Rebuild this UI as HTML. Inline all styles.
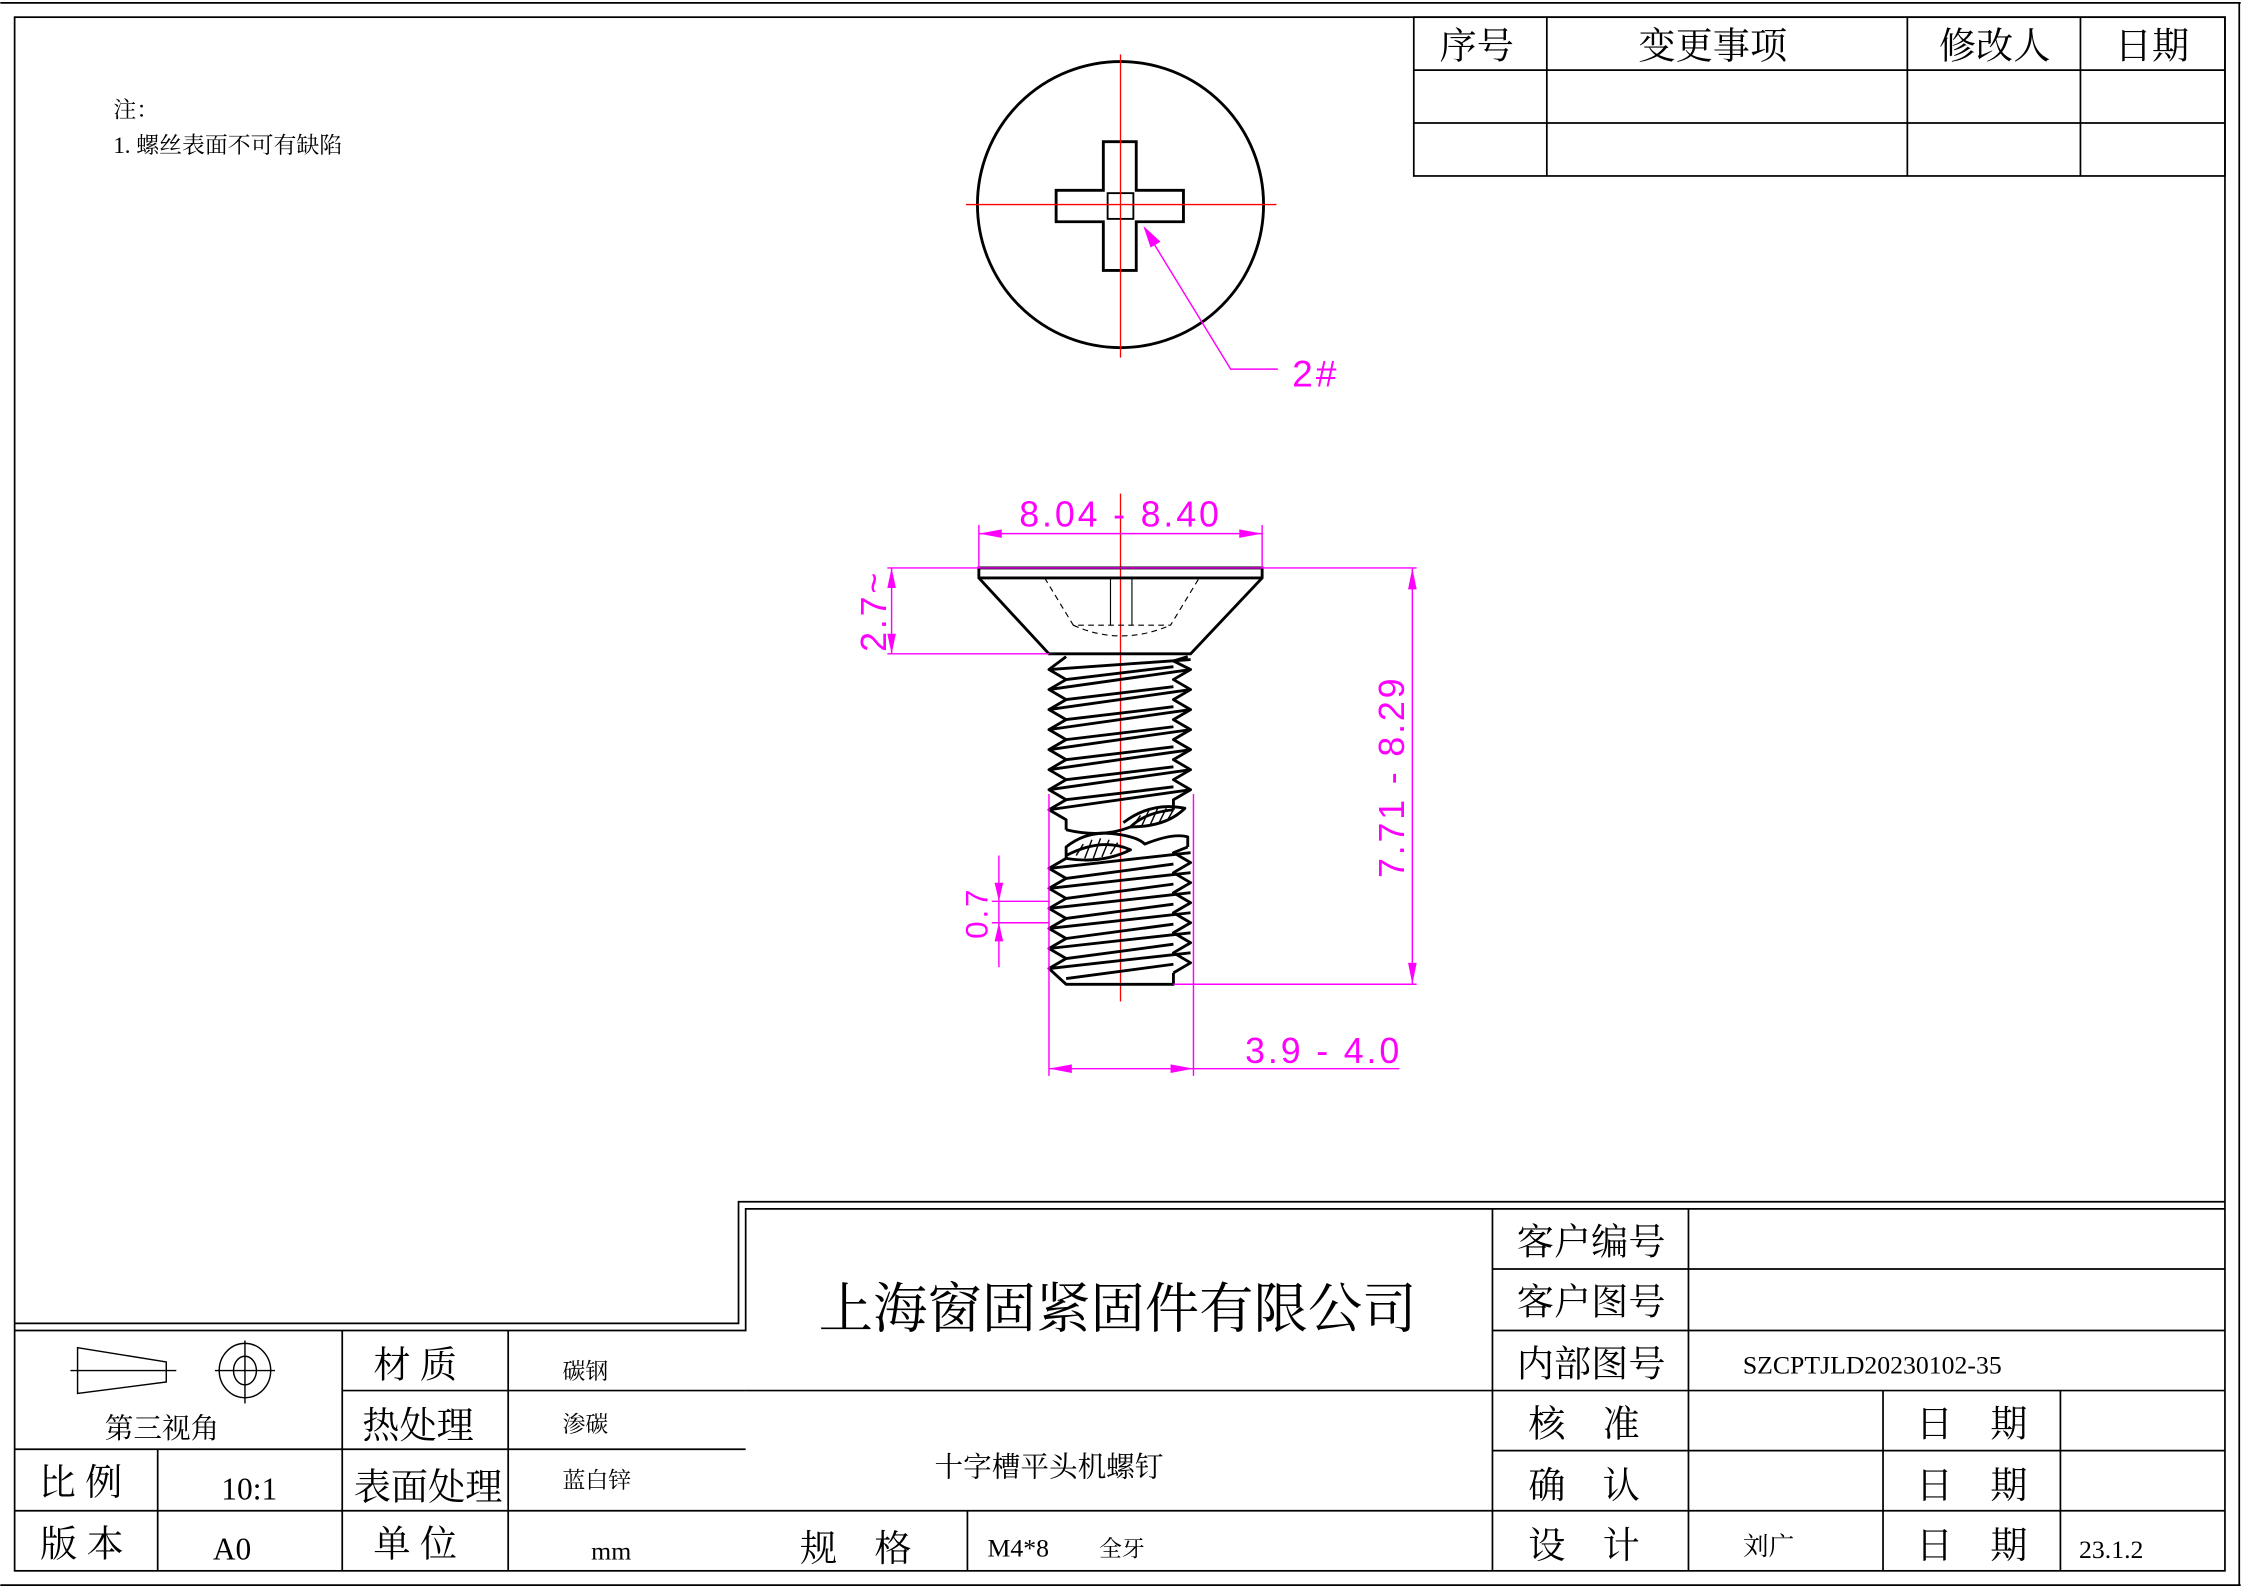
<!DOCTYPE html>
<html><head><meta charset="utf-8"><style>
html,body{margin:0;padding:0;background:#fff;}
svg{display:block;}
text{font-family:"Liberation Serif","Noto Serif CJK SC","Noto Sans CJK SC",serif;fill:#000;}
.d{font-family:"Liberation Sans",sans-serif;fill:#ff00ff;font-weight:300;letter-spacing:2px;}
</style></head><body>
<svg width="2241" height="1588" viewBox="0 0 1566 1110" xmlns="http://www.w3.org/2000/svg">
<rect x="0" y="0" width="1566" height="1110" fill="#fff"/>
<g stroke="#000" fill="none" stroke-width="1.2">
<line x1="0" y1="2" x2="1566" y2="2"/>
<line x1="0" y1="1108" x2="1566" y2="1108"/>
<line x1="1565" y1="2" x2="1565" y2="1108"/>
<rect x="10" y="12" width="1545" height="1086"/>
<rect x="988" y="12" width="567" height="111"/>
<line x1="988" y1="49" x2="1555" y2="49"/><line x1="988" y1="86" x2="1555" y2="86"/>
<line x1="1081" y1="12" x2="1081" y2="123"/><line x1="1333" y1="12" x2="1333" y2="123"/><line x1="1454" y1="12" x2="1454" y2="123"/>
<polyline points="10,925 516,925 516,840 1555,840"/>
<polyline points="10,930 521,930 521,845 1555,845"/>
<line x1="10" y1="1013" x2="521" y2="1013"/>
<line x1="10" y1="1056" x2="1555" y2="1056"/>
<line x1="239" y1="972" x2="521" y2="972"/>
<line x1="521" y1="972" x2="1555" y2="972"/>
<line x1="110" y1="1013" x2="110" y2="1098"/>
<line x1="239" y1="930" x2="239" y2="1098"/>
<line x1="355" y1="930" x2="355" y2="1098"/>
<line x1="676" y1="1056" x2="676" y2="1098"/>
<line x1="1043" y1="845" x2="1043" y2="1098"/>
<line x1="1180" y1="845" x2="1180" y2="1098"/>
<line x1="1043" y1="887" x2="1555" y2="887"/>
<line x1="1043" y1="930" x2="1555" y2="930"/>
<line x1="1043" y1="1014" x2="1555" y2="1014"/>
<line x1="1316" y1="972" x2="1316" y2="1098"/>
<line x1="1440" y1="972" x2="1440" y2="1098"/>
<polygon points="54,942 116,952 116,966 54,974" stroke-width="1"/>
<line x1="49" y1="958" x2="123" y2="958" stroke-width="1"/>
<ellipse cx="171" cy="958" rx="18" ry="19" stroke-width="1"/>
<ellipse cx="171" cy="958" rx="8" ry="10" stroke-width="1"/>
<line x1="150" y1="958" x2="192" y2="958" stroke-width="1"/>
<line x1="171" y1="937" x2="171" y2="981" stroke-width="1"/>
</g>
<g stroke="#000" fill="none" stroke-width="2">
<circle cx="783" cy="143" r="100"/>
<path d="M771,99 L794,99 L794,133 L827,133 L827,155 L794,155 L794,189 L771,189 L771,155 L738,155 L738,133 L771,133 Z"/>
<rect x="774" y="135" width="18" height="18" stroke-width="1.3"/>
</g>
<g stroke="#ff0000" stroke-width="0.9">
<line x1="675" y1="143" x2="892" y2="143"/>
<line x1="783" y1="38" x2="783" y2="250"/>
<line x1="783" y1="345" x2="783" y2="700"/>
</g>
<g stroke="#ff00ff" stroke-width="1" fill="none">
<polyline points="800,160 860,258 893,258"/>
</g>
<polygon points="799,158 811,169 804,173" fill="#ff00ff"/>
<text x="903" y="270" class="d" font-size="26">2#</text>
<g stroke="#000" fill="none" stroke-width="2">
<path d="M684,397 L882,397 L882,404 L832,457 L733,457 L684,404 Z"/>
<line x1="684" y1="404" x2="882" y2="404"/>
</g>
<g stroke="#000" fill="none" stroke-width="0.8">
<line x1="776" y1="404" x2="776" y2="437"/><line x1="791" y1="404" x2="791" y2="437"/>
<path d="M730,404 L750,437 L818,437 L838,404" stroke-dasharray="4,3"/>
<path d="M750,437 Q783,452 818,437" stroke-dasharray="4,3"/>
</g>
<g stroke="#000" fill="none" stroke-width="2" stroke-linejoin="round">
<polyline points="745,459 733,468 745,475 733,482 745,489 733,496 745,503 733,510 745,517 733,524 745,531 733,538 745,545 733,552 745,559 733,566 745,573 745,580"/>
<polyline points="830,459 820,462 832,468 820,475 832,482 820,489 832,496 820,503 832,510 820,517 832,524 820,531 832,538 820,545 832,552 820,559 820,566"/>
<line x1="733" y1="468" x2="832" y2="461"/><line x1="745" y1="475" x2="820" y2="466"/>
<line x1="733" y1="482" x2="832" y2="468"/><line x1="745" y1="489" x2="820" y2="480"/>
<line x1="733" y1="496" x2="832" y2="482"/><line x1="745" y1="503" x2="820" y2="494"/>
<line x1="733" y1="510" x2="832" y2="496"/><line x1="745" y1="517" x2="820" y2="508"/>
<line x1="733" y1="524" x2="832" y2="510"/><line x1="745" y1="531" x2="820" y2="522"/>
<line x1="733" y1="538" x2="832" y2="524"/><line x1="745" y1="545" x2="820" y2="536"/>
<line x1="733" y1="552" x2="832" y2="538"/><line x1="745" y1="559" x2="820" y2="550"/>
<line x1="733" y1="566" x2="832" y2="552"/>
<path d="M745,580 Q770,586 790,578 Q800,568 820,566"/>
<path d="M785,575 Q805,560 828,565 Q815,578 790,578"/>
<path d="M745,600 L745,592 Q760,580 780,583 Q795,585 800,590 Q820,582 830,585 L830,592"/>
<path d="M745,600 Q770,604 790,594 Q770,585 745,598"/>
<polyline points="745,600 733,607 745,614 733,621 745,628 733,635 745,642 733,649 745,656 733,663 745,670 733,677 745,688 820,688 820,680"/>
<polyline points="830,592 820,596 832,603 820,610 832,617 820,624 832,631 820,638 832,645 820,652 832,659 820,666 832,673 820,680"/>
<line x1="733" y1="607" x2="832" y2="596"/><line x1="745" y1="614" x2="820" y2="604"/>
<line x1="733" y1="621" x2="832" y2="610"/><line x1="745" y1="628" x2="820" y2="618"/>
<line x1="733" y1="635" x2="832" y2="624"/><line x1="745" y1="642" x2="820" y2="632"/>
<line x1="733" y1="649" x2="832" y2="638"/><line x1="745" y1="656" x2="820" y2="646"/>
<line x1="733" y1="663" x2="832" y2="652"/><line x1="745" y1="670" x2="820" y2="660"/>
<line x1="733" y1="677" x2="832" y2="666"/><line x1="745" y1="684" x2="820" y2="674"/>
</g>
<g stroke="#000" stroke-width="1">
<line x1="792" y1="577" x2="797" y2="570"/><line x1="798" y1="577" x2="803" y2="566"/><line x1="804" y1="576" x2="809" y2="565"/><line x1="810" y1="575" x2="815" y2="565"/><line x1="816" y1="573" x2="820" y2="566"/>
<line x1="752" y1="598" x2="757" y2="590"/><line x1="758" y1="600" x2="763" y2="587"/><line x1="764" y1="600" x2="769" y2="586"/><line x1="770" y1="599" x2="775" y2="587"/><line x1="776" y1="597" x2="781" y2="589"/>
</g>
<g stroke="#ff00ff" stroke-width="1" fill="none">
<line x1="684" y1="367" x2="684" y2="397"/><line x1="882" y1="367" x2="882" y2="397"/>
<line x1="684" y1="373" x2="882" y2="373"/>
<line x1="620" y1="397" x2="990" y2="397"/>
<line x1="620" y1="457" x2="733" y2="457"/>
<line x1="623" y1="397" x2="623" y2="457"/>
<line x1="820" y1="688" x2="990" y2="688"/>
<line x1="987" y1="397" x2="987" y2="688"/>
<line x1="733" y1="555" x2="733" y2="752"/><line x1="834" y1="555" x2="834" y2="752"/>
<line x1="733" y1="747" x2="978" y2="747"/>
<line x1="698" y1="598" x2="698" y2="676"/>
<line x1="693" y1="630" x2="733" y2="630"/><line x1="693" y1="645" x2="733" y2="645"/>
</g>
<g fill="#ff00ff">
<polygon points="684,373 700,370 700,376"/><polygon points="882,373 866,370 866,376"/>
<polygon points="623,397 620,411 626,411"/><polygon points="623,457 620,443 626,443"/>
<polygon points="987,397 984,412 990,412"/><polygon points="987,688 984,673 990,673"/>
<polygon points="733,747 749,744 749,750"/><polygon points="834,747 818,744 818,750"/>
<polygon points="698,630 695,617 701,617"/><polygon points="698,645 695,658 701,658"/>
</g>
<text x="783" y="368" class="d" font-size="25" text-anchor="middle">8.04 - 8.40</text>
<text x="0" y="0" class="d" font-size="25" text-anchor="middle" transform="translate(619,427) rotate(-90)">2.7~</text>
<text x="0" y="0" class="d" font-size="25" text-anchor="middle" transform="translate(981,543) rotate(-90)">7.71 - 8.29</text>
<text x="0" y="0" class="d" font-size="22" text-anchor="middle" transform="translate(690,638) rotate(-90)">0.7</text>
<text x="925" y="743" class="d" font-size="25" text-anchor="middle">3.9 - 4.0</text>
<text x="79" y="82" font-size="16">注：</text>
<text x="79" y="107" font-size="16">1. 螺丝表面不可有缺陷</text>
<g font-size="26" text-anchor="middle">
<text x="1032" y="41">序号</text><text x="1197" y="41">变更事项</text><text x="1394" y="41">修改人</text><text x="1504" y="41">日期</text>
</g>
<text x="781" y="928" font-size="38" text-anchor="middle">上海窗固紧固件有限公司</text>
<text x="733" y="1032" font-size="20" text-anchor="middle">十字槽平头机螺钉</text>
<g font-size="26" text-anchor="middle">
<text x="598" y="1091">规　格</text>
<text x="1112" y="877">客户编号</text><text x="1112" y="919">客户图号</text><text x="1112" y="962">内部图号</text>
<text x="1107" y="1004">核　准</text><text x="1378" y="1004">日　期</text>
<text x="1107" y="1047">确　认</text><text x="1378" y="1047">日　期</text>
<text x="1107" y="1089">设　计</text><text x="1378" y="1089">日　期</text>
<text x="290" y="963">材 质</text><text x="292" y="1005">热处理</text><text x="299" y="1048">表面处理</text><text x="290" y="1088">单 位</text>
<text x="56" y="1045">比 例</text><text x="57" y="1088">版 本</text>
</g>
<g font-size="18">
<text x="690" y="1088">M4*8</text><text x="768" y="1088" font-size="16">全牙</text>
<text x="1218" y="960">SZCPTJLD20230102-35</text>
<text x="1218" y="1087">刘广</text>
<text x="1453" y="1089">23.1.2</text>
<text x="393" y="964" font-size="16">碳钢</text><text x="393" y="1001" font-size="16">渗碳</text><text x="393" y="1040" font-size="16">蓝白锌</text>
<text x="427" y="1090" text-anchor="middle">mm</text>
<text x="174" y="1048" font-size="22" text-anchor="middle">10:1</text>
<text x="162" y="1090" font-size="22" text-anchor="middle">A0</text>
<text x="113" y="1005" font-size="20" text-anchor="middle">第三视角</text>
</g>
</svg>
</body></html>
